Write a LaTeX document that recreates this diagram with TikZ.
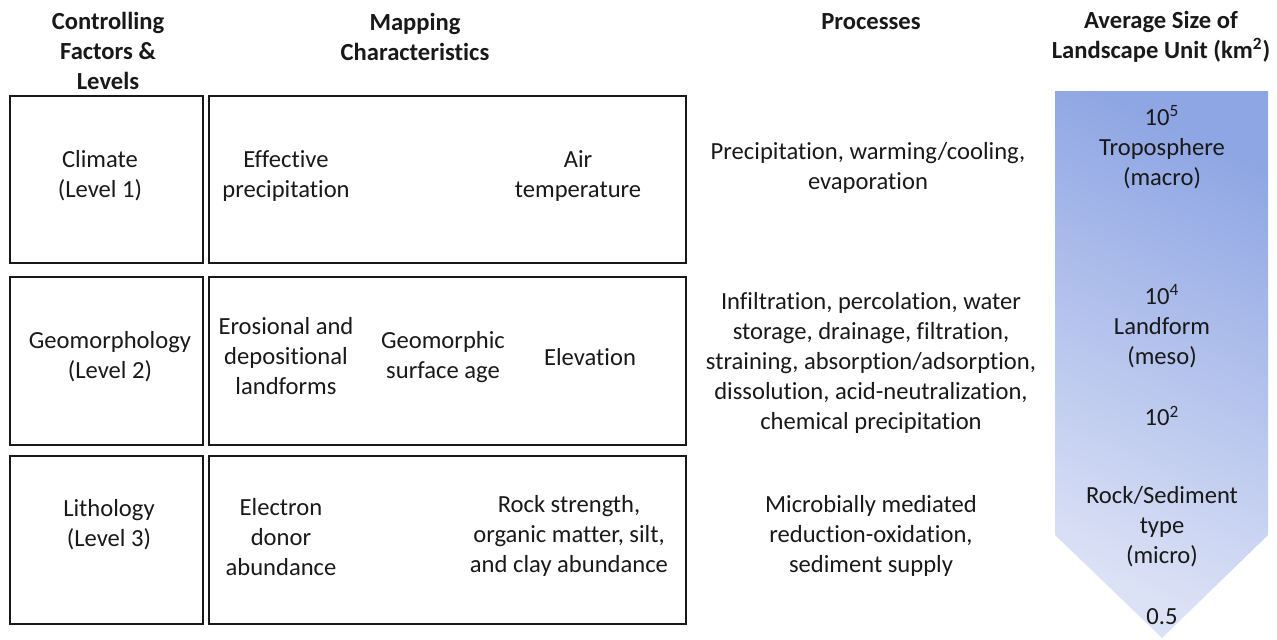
\documentclass[tikz,border=0pt]{standalone}
\usepackage{fontspec}
\setmainfont{Carlito}[Ligatures={NoCommon,NoRare},Contextuals={NoAlternate}]
\definecolor{arrowtop}{RGB}{143,166,228}
\definecolor{arrowbot}{RGB}{220,226,246}
\definecolor{ink}{RGB}{25,25,25}
\tikzset{
  txt/.style={align=center, text=ink, font=\fontsize{12.3}{15}\selectfont},
  hdr/.style={txt, font=\fontsize{12.3}{15}\selectfont\bfseries},
  box/.style={line width=0.8pt, draw=ink}
}
\begin{document}
\begin{tikzpicture}[x=0.5pt,y=-0.5pt]
    \useasboundingbox (0,0) rectangle (1277,639);

    % headers
    \node[hdr] (hlevel) at (108,51) {Controlling\\Factors \&\\Levels};
    \node[hdr] (hmap) at (415,37) {Mapping\\Characteristics};
    \node[hdr] (hproc) at (871,22) {Processes};
    \node[hdr] (hsize) at (1161,37) {Average Size of\\Landscape Unit (km\textsuperscript{2})};

    % boxes
    \draw[box] (10,96) rectangle (203,263);
    \draw[box] (209,96) rectangle (686,263);
    \draw[box] (10,277) rectangle (203,445);
    \draw[box] (209,277) rectangle (686,445);
    \draw[box] (10,456) rectangle (203,624);
    \draw[box] (209,456) rectangle (686,624);

    % level 1
    \node[txt] (climate) at (100,176) {Climate\\(Level 1)};
    \node[txt] (effprec) at (286,176) {Effective\\precipitation};
    \node[txt] (airtemp) at (578,176) {Air\\temperature};
    \node[txt] (proc1) at (868,168) {Precipitation, warming/cooling,\\evaporation};

    % level 2
    \node[txt] (geomorph) at (110,357) {Geomorphology\\(Level 2)};
    \node[txt] (landforms) at (286,356) {Erosional and\\depositional\\landforms};
    \node[txt] (surfage) at (443,357) {Geomorphic\\surface age};
    \node[txt] (elev) at (590,357) {Elevation};
    \node[txt] (proc2) at (871,363) {Infiltration, percolation, water\\storage, drainage, filtration,\\straining, absorption/adsorption,\\dissolution, acid-neutralization,\\chemical precipitation};

    % level 3
    \node[txt] (litho) at (109,525) {Lithology\\(Level 3)};
    \node[txt] (donor) at (281,537) {Electron\\donor\\abundance};
    \node[txt] (rock) at (569,536) {Rock strength,\\organic matter, silt,\\and clay abundance};
    \node[txt] (proc3) at (871,536) {Microbially mediated\\reduction-oxidation,\\sediment supply};

    % size arrow
    \shade[top color=arrowtop, bottom color=arrowbot, shading angle=-25]
      (1055,91) -- (1268,91) -- (1268,535) -- (1162,638) -- (1055,535) -- cycle;
    \node[txt] (tropo) at (1162,147) {10\textsuperscript{5}\\Troposphere\\(macro)};
    \node[txt] (landform) at (1162,326) {10\textsuperscript{4}\\Landform\\(meso)};
    \node[txt] (hundred) at (1162,416) {10\textsuperscript{2}};
    \node[txt] (sediment) at (1162,527) {Rock/Sediment\\type\\(micro)};
    \node[txt] (half) at (1162,617) {0.5};
\end{tikzpicture}
\end{document}
